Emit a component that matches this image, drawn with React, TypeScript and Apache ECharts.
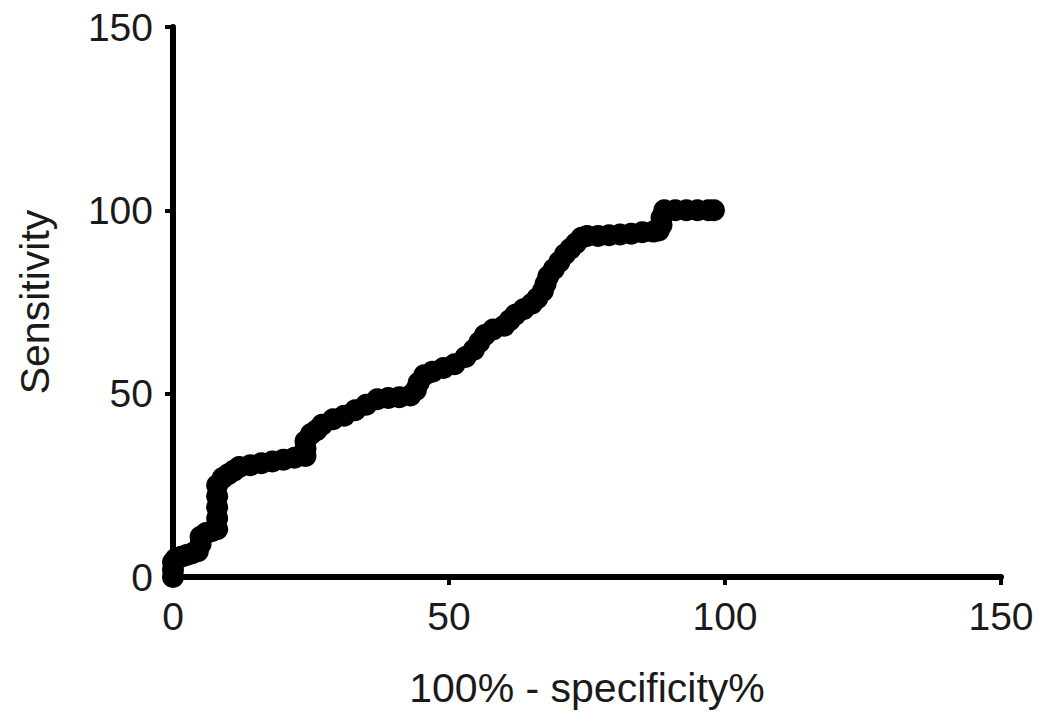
import React, { useEffect, useRef } from "react";
import * as echarts from "echarts";

const xValues: number[] = [
  0, 0, 0, 0.5, 1.5, 2.5, 3.5, 4.5, 5, 5, 6, 7, 8, 8, 8, 8, 8, 9, 10, 11, 12, 14, 16, 18, 20, 22, 24,
  24, 24, 25, 26, 27, 29, 31, 33, 35, 37, 39, 41, 43, 44, 44.5, 45.5, 47, 49, 51, 53, 54.5, 55.5,
  56.5, 58, 60, 61, 62, 63.5, 65, 66, 67, 67.5, 68, 69, 70, 71, 72, 73, 74, 75, 77, 79, 81, 83, 85,
  87, 88, 88.5, 88.5, 89, 91, 93, 95, 97, 98,
];
const yValues: number[] = [
  0, 2, 4, 5, 5.5, 6, 6.5, 7, 9, 11, 12, 12.5, 13, 16, 19, 22, 25, 27, 28, 29, 30, 30.5, 31, 31.5,
  32, 32.5, 33, 35, 37, 39, 40, 41.5, 43, 44, 45.5, 47, 48.5, 48.8, 49, 49.5, 51, 53, 55, 56, 57, 58,
  60, 62, 64, 66, 67.5, 68.5, 70, 71.5, 73, 74.5, 76, 78, 80, 82, 84, 86, 88, 89.5, 91, 92.5, 93, 93,
  93.2, 93.4, 93.6, 94, 94.2, 94.5, 96, 98, 100, 100, 100, 100, 100, 100,
];
const axisTicks: number[] = [0, 50, 100, 150];
const xTitle = "100% - specificity%";
const yTitle = "Sensitivity";

export default function App() {
  const ref = useRef<HTMLDivElement>(null);
  useEffect(() => {
    if (!ref.current) return;
    const chart = echarts.init(ref.current, undefined, { renderer: "svg" });
    const font = "'Liberation Sans', Arial, Helvetica, sans-serif";
    const data = xValues.map((x, i) => [x, yValues[i]]);
    const axisCommon = {
      type: "value" as const,
      min: axisTicks[0],
      max: axisTicks[axisTicks.length - 1],
      interval: axisTicks[1] - axisTicks[0],
      splitLine: { show: false },
      axisLine: { show: true, lineStyle: { color: "#000", width: 6, cap: "round" } },
      axisTick: { show: true, length: 8, lineStyle: { color: "#000", width: 4 } },
      nameLocation: "middle" as const,
      nameTextStyle: { color: "#1a1a1a", fontSize: 41, fontFamily: font },
    };
    chart.setOption({
      animation: false,
      backgroundColor: "#fff",
      grid: { left: 173, right: 45, top: 27, bottom: 147, containLabel: false },
      xAxis: {
        ...axisCommon,
        name: xTitle,
        nameGap: 90,
        axisLabel: { color: "#1a1a1a", fontSize: 39, fontFamily: font, margin: 20 },
      },
      yAxis: {
        ...axisCommon,
        name: yTitle,
        nameGap: 118,
        axisLabel: { color: "#1a1a1a", fontSize: 39, fontFamily: font, margin: 20 },
      },
      series: [
        {
          type: "line",
          data,
          clip: false,
          symbol: "circle",
          symbolSize: 22,
          itemStyle: { color: "#000" },
          lineStyle: { color: "#000", width: 16 },
        },
      ],
    });
    return () => chart.dispose();
  }, []);
  return (
    <div
      ref={ref}
      style={{ position: "fixed", left: 0, top: 0, width: 1046, height: 724, background: "#fff" }}
    />
  );
}
